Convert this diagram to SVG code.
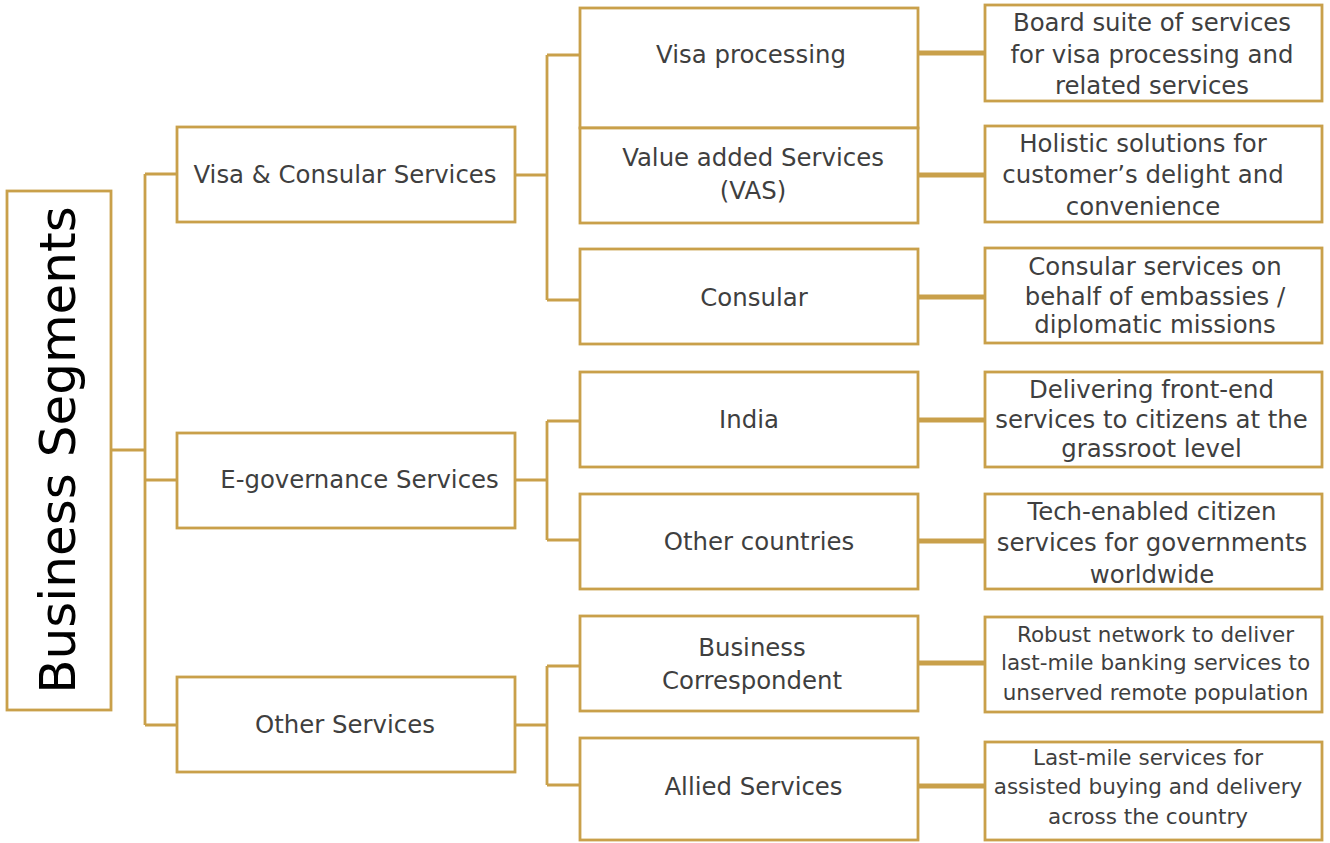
<svg xmlns="http://www.w3.org/2000/svg" width="1330" height="843" viewBox="0 0 1330 843">
<style>
.box{fill:#fff;stroke:#C9A04A;stroke-width:2.8}
.ln{fill:none;stroke:#C9A04A;stroke-width:2.8}
.thk{fill:none;stroke:#C9A04A;stroke-width:5}
text{font-family:"DejaVu Sans","Verdana",sans-serif;fill:#3f3f3f;text-anchor:middle;font-size:24.4px}
.sm{font-size:21.5px}
.title{font-size:50px;fill:#000}
</style>
<rect width="1330" height="843" fill="#fff"/>
<g id="connectors">
<path class="ln" d="M111,450 H145 M145,174 V725 M145,174 H177 M145,480 H177 M145,725 H177"/>
<path class="ln" d="M515,175 H547 M547,55 V300 M547,55 H580 M547,300 H580"/>
<path class="ln" d="M515,480 H547 M547,421 V540 M547,421 H580 M547,540 H580"/>
<path class="ln" d="M515,725 H547 M547,666 V785 M547,666 H580 M547,785 H580"/>
<path class="thk" d="M918,53 H985 M918,175 H985 M918,297 H985 M918,420 H985 M918,541 H985 M918,663 H985 M918,786 H985"/>
</g>
<g id="root">
<rect class="box" x="7" y="191" width="104" height="519"/>
<text class="title" transform="translate(75,450) rotate(-90)">Business Segments</text>
</g>
<g id="visa-consular">
<rect class="box" x="177" y="127" width="338" height="95"/>
<text x="345" y="183">Visa &amp; Consular Services</text>
</g>
<g id="egov">
<rect class="box" x="177" y="433" width="338" height="95"/>
<text x="359.5" y="488">E-governance Services</text>
</g>
<g id="other">
<rect class="box" x="177" y="677" width="338" height="95"/>
<text x="345" y="733">Other Services</text>
</g>
<g id="visa-processing">
<rect class="box" x="580" y="8" width="338" height="120"/>
<text x="751" y="63">Visa processing</text>
</g>
<g id="vas">
<rect class="box" x="580" y="128" width="338" height="95"/>
<text x="753" y="166">Value added Services</text>
<text x="753" y="199">(VAS)</text>
</g>
<g id="consular">
<rect class="box" x="580" y="249" width="338" height="95"/>
<text x="754" y="306">Consular</text>
</g>
<g id="india">
<rect class="box" x="580" y="372" width="338" height="95"/>
<text x="749" y="428">India</text>
</g>
<g id="other-countries">
<rect class="box" x="580" y="494" width="338" height="95"/>
<text x="759" y="550">Other countries</text>
</g>
<g id="business-correspondent">
<rect class="box" x="580" y="616" width="338" height="95"/>
<text x="752" y="656">Business</text>
<text x="752" y="689">Correspondent</text>
</g>
<g id="allied">
<rect class="box" x="580" y="738" width="338" height="102"/>
<text x="753.5" y="795">Allied Services</text>
</g>
<g id="desc-visa">
<rect class="box" x="985" y="5" width="337" height="96"/>
<text x="1152" y="31">Board suite of services</text>
<text x="1152" y="63">for visa processing and</text>
<text x="1152" y="94">related services</text>
</g>
<g id="desc-vas">
<rect class="box" x="985" y="126" width="337" height="96"/>
<text x="1143" y="152">Holistic solutions for</text>
<text x="1143" y="183">customer’s delight and</text>
<text x="1143" y="215">convenience</text>
</g>
<g id="desc-consular">
<rect class="box" x="985" y="248" width="337" height="95"/>
<text x="1155" y="275">Consular services on</text>
<text x="1155" y="305">behalf of embassies /</text>
<text x="1155" y="333">diplomatic missions</text>
</g>
<g id="desc-india">
<rect class="box" x="985" y="372" width="337" height="95"/>
<text x="1151.5" y="398">Delivering front-end</text>
<text x="1151.5" y="428">services to citizens at the</text>
<text x="1151.5" y="457">grassroot level</text>
</g>
<g id="desc-other-countries">
<rect class="box" x="985" y="494" width="337" height="95"/>
<text x="1152" y="520">Tech-enabled citizen</text>
<text x="1152" y="551">services for governments</text>
<text x="1152" y="583">worldwide</text>
</g>
<g id="desc-bc">
<rect class="box" x="985" y="617" width="337" height="95"/>
<text class="sm" x="1155.5" y="642">Robust network to deliver</text>
<text class="sm" x="1155.5" y="670">last-mile banking services to</text>
<text class="sm" x="1155.5" y="700">unserved remote population</text>
</g>
<g id="desc-allied">
<rect class="box" x="985" y="742" width="337" height="98"/>
<text class="sm" x="1148" y="765">Last-mile services for</text>
<text class="sm" x="1148" y="794">assisted buying and delivery</text>
<text class="sm" x="1148" y="824">across the country</text>
</g>
</svg>
